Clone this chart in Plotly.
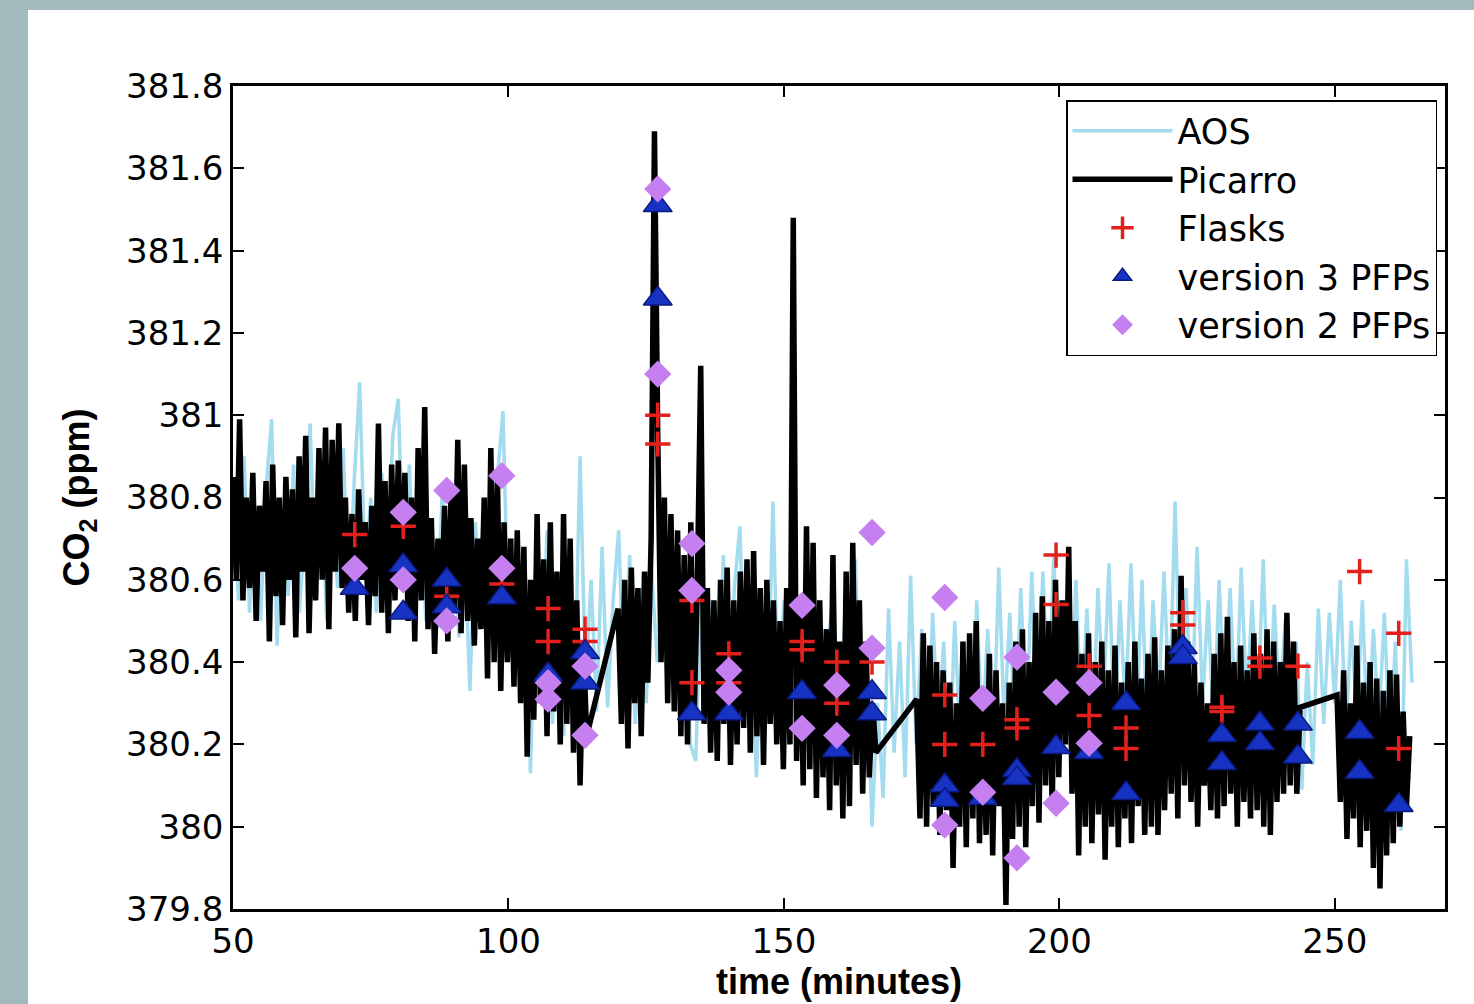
import numpy as np
import plotly.graph_objects as go

# ---------------- data ----------------
x_ticks = [50, 100, 150, 200, 250]
x_tick_labels = ["50", "100", "150", "200", "250"]
y_ticks = [379.8, 380.0, 380.2, 380.4, 380.6, 380.8, 381.0, 381.2, 381.4, 381.6, 381.8]
y_tick_labels = ["379.8", "380", "380.2", "380.4", "380.6", "380.8", "381", "381.2", "381.4", "381.6", "381.8"]

# AOS analyzer, one reading per minute from t=50
aos_start = 50.0
aos_step = 1.0
aos_co2 = [
    380.80, 380.55, 380.90, 380.52, 380.75, 380.50, 380.82, 380.99, 380.44, 380.78,
    380.56, 380.88, 380.52, 380.70, 380.98, 380.55, 380.85, 380.50, 380.76, 380.58,
    380.92, 380.55, 380.84, 381.08, 380.60, 380.80, 380.52, 380.86, 380.60, 380.95,
    381.04, 380.58, 380.88, 380.55, 380.80, 380.50, 380.75, 380.48, 380.82, 380.52,
    380.78, 380.46, 380.70, 380.33, 380.74, 380.50, 380.80, 380.45, 380.85, 381.01,
    380.48, 380.70, 380.40, 380.65, 380.13, 380.67, 380.30, 380.72, 380.25, 380.60,
    380.22, 380.68, 380.30, 380.90, 380.35, 380.60, 380.28, 380.68, 380.29, 380.55,
    380.72, 380.32, 380.66, 380.25, 380.58, 380.30, 380.62, 380.40, 380.55, 380.30,
    380.65, 380.28, 380.58, 380.20, 380.16, 380.60, 380.25, 380.55, 380.30, 380.66,
    380.22, 380.58, 380.73, 380.30, 380.55, 380.12, 380.50, 380.25, 380.79, 380.30,
    380.55, 380.20, 380.60, 380.25, 380.52, 380.15, 380.48, 380.20, 380.45, 380.56,
    380.18, 380.50, 380.22, 380.65, 380.15, 380.40, 380.00, 380.30, 380.07, 380.53,
    380.18, 380.45, 380.12, 380.61, 380.20, 380.48, 380.15, 380.52, 380.22, 380.45,
    380.12, 380.50, 380.20, 380.40, 380.15, 380.55, 380.22, 380.48, 380.18, 380.63,
    380.25, 380.52, 380.20, 380.58, 380.24, 380.62, 380.25, 380.62, 380.30, 380.66,
    380.28, 380.55, 380.22, 380.60, 380.25, 380.53, 380.20, 380.58, 380.30, 380.64,
    380.22, 380.55, 380.28, 380.64, 380.25, 380.60, 380.20, 380.55, 380.30, 380.62,
    380.28, 380.79, 380.30, 380.58, 380.25, 380.68, 380.30, 380.55, 380.22, 380.60,
    380.28, 380.58, 380.25, 380.63, 380.30, 380.55, 380.28, 380.65, 380.25, 380.54,
    380.30, 380.50, 380.20, 380.45, 380.09, 380.40, 380.15, 380.53, 380.25, 380.52,
    380.30, 380.60, 380.22, 380.50, 380.25, 380.55, 380.20, 380.48, 380.25, 380.52,
    380.18, 380.45, 379.99, 380.65, 380.35,
]

# Picarro analyzer, four recorded segments (start minute, step, values)
picarro_step = 0.6
pic_seg1_start = 50.0
pic_seg1 = [
    380.85, 380.60, 380.99, 380.55, 380.80, 380.58, 380.86, 380.50, 380.78,
    380.62, 380.84, 380.45, 380.88, 380.56, 380.80, 380.49, 380.85,
    380.60, 380.82, 380.46, 380.90, 380.62, 380.95, 380.47, 380.80,
    380.55, 380.92, 380.60, 380.97, 380.48, 380.94, 380.62, 380.98,
    380.58, 380.80, 380.52, 380.76, 380.50, 380.82, 380.60, 380.74, 380.49,
    380.78, 380.56, 380.98, 380.52, 380.84, 380.47, 380.88, 380.55,
    380.89, 380.60, 380.86, 380.50, 380.80, 380.45, 380.92, 380.55,
    381.02, 380.48, 380.75, 380.42, 380.70, 380.50, 380.78, 380.45,
    380.82, 380.52, 380.94, 380.47, 380.88, 380.50, 380.75, 380.44, 380.70,
    380.48, 380.80, 380.36, 380.92, 380.40, 380.85, 380.33, 380.74,
    380.40, 380.70, 380.34, 380.72, 380.30, 380.68, 380.17, 380.60,
    380.26, 380.76, 380.30, 380.65, 380.22, 380.74, 380.28, 380.62, 380.20,
    380.76, 380.25, 380.70, 380.18, 380.55, 380.10, 380.45, 380.22,
]
pic_seg2_start = 119.9
pic_seg2 = [
    380.53, 380.25, 380.60, 380.19, 380.63, 380.30, 380.58, 380.22, 380.62, 380.35, 380.70,
    381.69, 380.95, 380.40, 380.80, 380.30, 380.76, 380.28, 380.72, 380.22, 380.66,
    380.20, 380.74, 380.26, 380.60, 381.12, 380.25, 380.58, 380.18, 380.55, 380.16,
    380.60, 380.25, 380.63, 380.15, 380.55, 380.20, 380.62, 380.24, 380.65, 380.18,
    380.67, 380.22, 380.58, 380.15, 380.60, 380.25, 380.55, 380.20, 380.50, 380.14,
    380.58, 380.20, 381.48, 380.16, 380.55, 380.10, 380.73, 380.14, 380.69, 380.07,
    380.55, 380.12, 380.48, 380.04, 380.66, 380.10, 380.45, 380.02, 380.62, 380.05,
    380.69, 380.15, 380.55, 380.08, 380.45, 380.12, 380.30, 380.18,
]
pic_seg3_start = 174.1
pic_seg3 = [
    380.31, 380.02, 380.47, 380.00, 380.44, 380.05, 380.40, 379.98, 380.38, 380.04,
    380.35, 379.90, 380.30, 380.00, 380.45, 379.95, 380.47, 380.02, 380.50, 379.96,
    380.33, 379.98, 380.42, 379.93, 380.38, 380.05, 380.30, 379.81, 380.35, 379.97,
    380.45, 380.00, 380.48, 379.95, 380.40, 380.05, 380.52, 380.01, 380.56, 380.10,
    380.50, 380.04, 380.60, 380.12, 380.55, 380.20, 380.68, 380.08, 380.50, 379.93,
    380.42, 380.00, 380.47, 379.96, 380.40, 380.03, 380.45, 379.92, 380.38, 380.00,
    380.44, 379.95, 380.35, 380.02, 380.40, 379.96, 380.45, 380.05, 380.36, 379.98,
    380.42, 380.00, 380.46, 379.98, 380.38, 380.04, 380.44, 380.08, 380.48, 380.02,
    380.61, 380.10, 380.45, 380.06, 380.40, 380.00, 380.35, 380.10, 380.30, 380.04,
    380.42, 380.02, 380.47, 380.05, 380.51, 380.08, 380.40, 380.00, 380.44, 380.06,
    380.38, 380.02, 380.47, 380.04, 380.42, 380.00, 380.48, 379.98, 380.45, 380.06,
    380.40, 380.08, 380.52, 380.10, 380.45, 380.08, 380.29,
]
pic_seg4_start = 250.4
pic_seg4 = [
    380.32, 380.06, 380.38, 379.97, 380.30, 380.02, 380.44, 379.95, 380.35, 379.99,
    380.40, 379.90, 380.36, 379.85, 380.33, 379.93, 380.38, 379.96, 380.37, 380.00,
    380.28, 380.05, 380.22,
]

# Flask samples
flask_time = [72.1, 80.9, 88.8, 98.8, 107.2, 107.2, 113.9, 113.9, 127.1, 127.1,
              133.3, 133.3, 140.0, 140.0, 153.3, 153.3, 159.6, 159.6, 166.0, 179.2,
              179.2, 186.1, 192.3, 192.3, 199.4, 199.4, 205.4, 205.4, 212.1, 212.1,
              222.4, 222.4, 229.5, 229.5, 236.4, 236.4, 243.3, 254.5, 261.6, 261.6]
flask_co2 = [380.71, 380.73, 380.56, 380.59, 380.53, 380.45, 380.48, 380.45, 381.00, 380.93,
             380.55, 380.35, 380.42, 380.35, 380.45, 380.43, 380.40, 380.30, 380.40, 380.32,
             380.20, 380.20, 380.26, 380.24, 380.66, 380.54, 380.39, 380.27, 380.24, 380.19,
             380.52, 380.49, 380.29, 380.28, 380.41, 380.39, 380.39, 380.62, 380.47, 380.19]

# version 3 PFPs
pfp3_time = [72.1, 80.9, 80.9, 88.8, 88.8, 98.8, 107.2, 113.9, 113.9, 127.1,
             127.1, 133.3, 140.0, 153.3, 159.6, 166.0, 166.0, 179.2, 179.2, 186.1,
             192.3, 192.3, 199.4, 205.4, 212.1, 212.1, 222.4, 222.4, 229.5, 229.5,
             236.4, 236.4, 243.3, 243.3, 254.5, 254.5, 261.6]
pfp3_co2 = [380.58, 380.635, 380.52, 380.60, 380.535, 380.557, 380.37, 380.424, 380.35, 381.51,
            381.283, 380.275, 380.275, 380.327, 380.186, 380.327, 380.275, 380.10, 380.065, 380.07,
            380.137, 380.118, 380.193, 380.181, 380.30, 380.081, 380.436, 380.412, 380.222, 380.154,
            380.25, 380.203, 380.25, 380.17, 380.23, 380.133, 380.052]

# version 2 PFPs
pfp2_time = [72.1, 80.9, 80.9, 88.8, 88.8, 98.8, 98.8, 107.2, 107.2, 113.9,
             113.9, 127.1, 127.1, 133.3, 133.3, 140.0, 140.0, 153.3, 153.3, 159.6,
             159.6, 166.0, 166.0, 179.2, 179.2, 186.1, 186.1, 192.3, 192.3, 199.4,
             199.4, 205.4, 205.4]
pfp2_co2 = [380.628, 380.764, 380.60, 380.817, 380.50, 380.853, 380.628, 380.35, 380.31, 380.39,
            380.222, 381.55, 381.10, 380.688, 380.574, 380.38, 380.327, 380.538, 380.239, 380.344,
            380.222, 380.715, 380.434, 380.557, 380.004, 380.312, 380.084, 380.412, 379.924, 380.327,
            380.057, 380.35, 380.203]

# ---------------- build ----------------
def seg_time(start, step, vals):
    return list(start + step * np.arange(len(vals)))

aos_time = seg_time(aos_start, aos_step, aos_co2)
pic_time = (seg_time(pic_seg1_start, picarro_step, pic_seg1)
            + seg_time(pic_seg2_start, picarro_step, pic_seg2)
            + seg_time(pic_seg3_start, picarro_step, pic_seg3)
            + seg_time(pic_seg4_start, picarro_step, pic_seg4))
pic_co2 = pic_seg1 + pic_seg2 + pic_seg3 + pic_seg4

FONT = "DejaVu Sans, Liberation Sans, Arial, sans-serif"
TFONT = "Liberation Sans, Arial, sans-serif"

fig = go.Figure()
fig.add_trace(go.Scatter(x=aos_time, y=aos_co2, mode="lines", name="AOS",
                         legendgroup="a", line=dict(color="#a3dcef", width=3.5)))
fig.add_trace(go.Scatter(x=pic_time, y=pic_co2, mode="lines", name="Picarro",
                         legendgroup="b", line=dict(color="black", width=5.5)))
fig.add_trace(go.Scatter(x=flask_time, y=flask_co2, mode="markers", name="Flasks",
                         legendgroup="c",
                         marker=dict(symbol="cross-thin", size=18, color="#e3201c",
                                     line=dict(color="#e3201c", width=3.5))))
fig.add_trace(go.Scatter(x=pfp3_time, y=pfp3_co2, mode="markers", name="version 3 PFPs",
                         legendgroup="d",
                         marker=dict(symbol="triangle-up", size=25, color="#1733c4",
                                     line=dict(color="#0b1a80", width=1.5))))
fig.add_trace(go.Scatter(x=pfp2_time, y=pfp2_co2, mode="markers", name="version 2 PFPs",
                         legendgroup="e",
                         marker=dict(symbol="diamond", size=21, color="#c67ff0",
                                     line=dict(color="#c67ff0", width=0))))

L, R, T, B = 233, 29, 86, 95
W, H = 1474, 1004
pw, ph = W - L - R, H - T - B

fig.add_shape(type="rect", xref="paper", yref="paper",
              x0=(28 - L) / pw, x1=(W - L) / pw + 0.01,
              y0=-(B + 5) / ph, y1=(H - B - 10) / ph,
              fillcolor="white", line=dict(width=0), layer="below")

axis_common = dict(showline=True, linecolor="black", linewidth=2.5, mirror="ticks",
                   ticks="inside", ticklen=11, tickwidth=2, tickcolor="black",
                   showgrid=False, zeroline=False,
                   tickfont=dict(family=FONT, size=34, color="black"))

fig.update_xaxes(range=[50, 270], tickvals=x_ticks, ticktext=x_tick_labels,
                 title=dict(text="time (minutes)", standoff=2,
                            font=dict(family=TFONT, size=36, color="black", weight="bold")),
                 **axis_common)
fig.update_yaxes(range=[379.8, 381.8], tickvals=y_ticks, ticktext=y_tick_labels,
                 title=dict(text="CO<sub>2</sub> (ppm)", standoff=26,
                            font=dict(family=TFONT, size=36, color="black", weight="bold")),
                 **axis_common)

fig.update_layout(
    width=W, height=H,
    margin=dict(l=L, r=R, t=T, b=B, pad=0),
    paper_bgcolor="#a2babe",
    plot_bgcolor="white",
    showlegend=True,
    legend=dict(x=(1437 - L) / pw, xanchor="right", y=(H - B - 100) / ph, yanchor="top",
                bgcolor="white", bordercolor="black", borderwidth=1.5,
                font=dict(family=FONT, size=35, color="black"),
                tracegroupgap=4, itemwidth=100, traceorder="normal"),
)

fig.write_html("out.html")
